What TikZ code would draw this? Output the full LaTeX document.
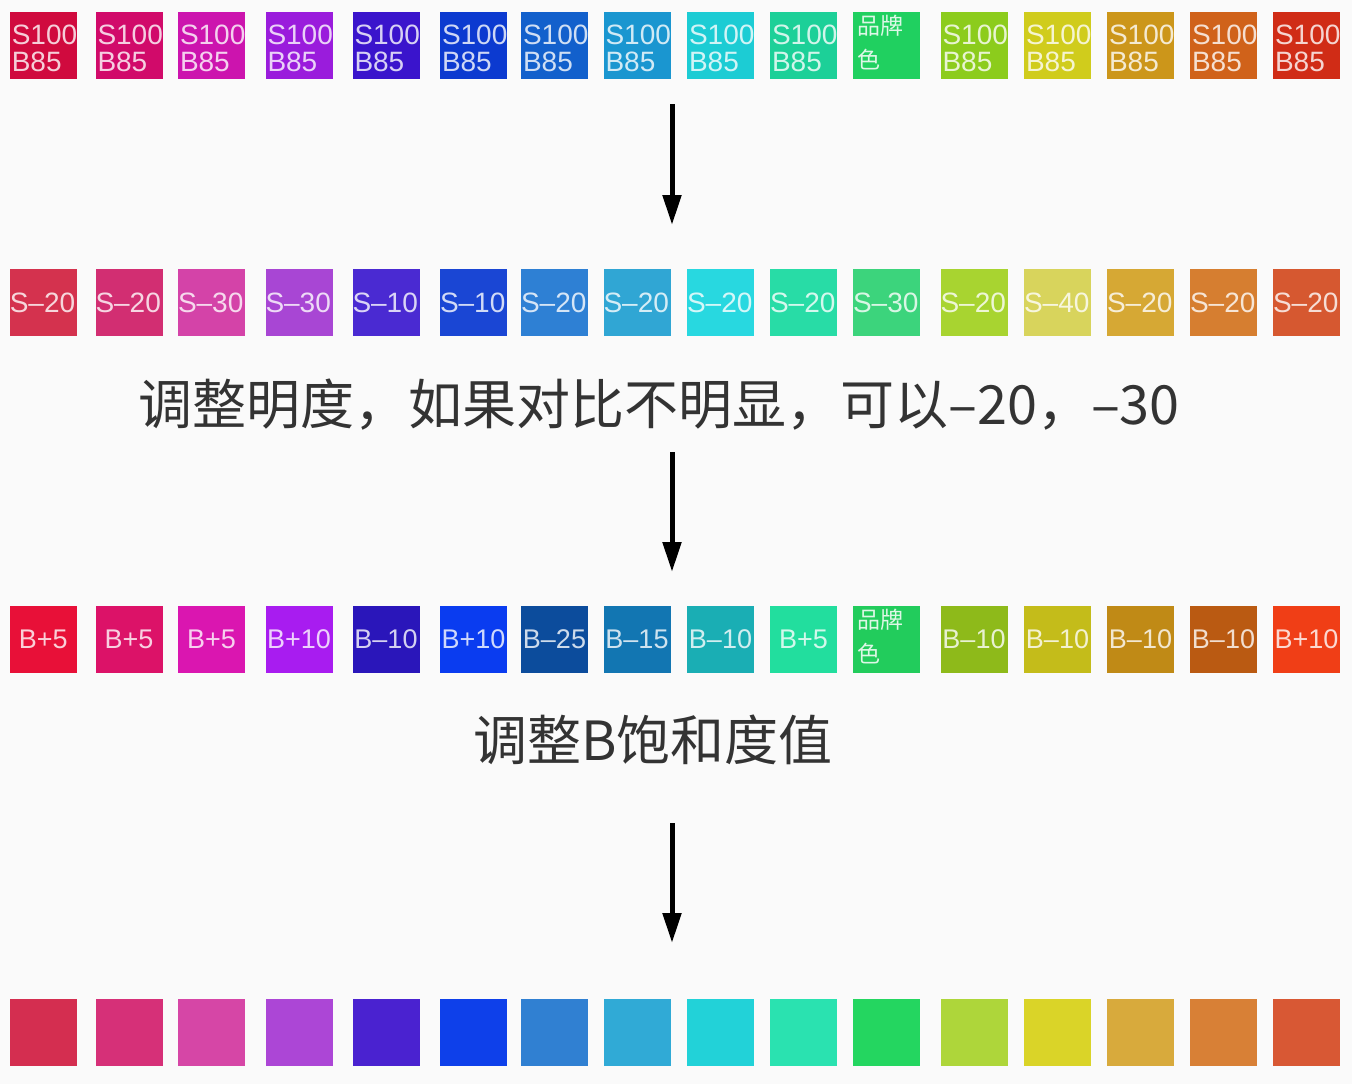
\documentclass[tikz,border=0pt]{standalone}
\usepackage{fontspec}
\setmainfont{Liberation Sans}
\newfontfamily\cjk{Noto Sans CJK SC}
\usetikzlibrary{arrows.meta}

\tikzset{
  swatch/.style={minimum size=67pt,inner sep=0pt,text=white,text opacity=.8,
    font=\fontsize{27}{27}\selectfont},
  etiq/.style={inner sep=2pt,align=left,text=white,text opacity=.8,
    font=\fontsize{28}{27}\selectfont},
  marca/.style={inner sep=2pt,align=left,text=white,text opacity=.85,
    font=\cjk\fontsize{23}{34}\selectfont},
  leyenda/.style={text=black!80,font=\cjk\fontsize{54}{54}\selectfont},
  flecha/.style={line width=5pt,-{Triangle[length=30pt,width=18pt]}}
}

\begin{document}
\begin{tikzpicture}[x=1pt,y=-1pt]
    \fill[black!2] (0,0) rectangle (1352,1084);
    \useasboundingbox (0,0) rectangle (1352,1084);

    % Columnas y filas.
    \foreach \x [count=\i] in {43.3,129,211.5,299,386,473.5,554.5,637,
        720.5,803.5,886.5,974,1057.5,1140.5,1223.5,1306.5}
        \coordinate (k\i) at (\x,0);
    \coordinate (f1) at (0,45.3);
    \coordinate (f2) at (0,302.5);
    \coordinate (f3) at (0,639.5);
    \coordinate (f4) at (0,1032.5);

    % Fila 1: tonos puros S100 B85.
    \foreach \c [count=\i] in {D00A3E,D10A6A,CC14AE,9A1CDC,3A14CC,0C3AD0,
        1260CC,1A96D0,1CCCD4,1CD098,20D060,8CCC1C,D0CC1C,CC961A,D0621A,D02C16} {
        \definecolor{tmp}{HTML}{\c}
        \node[swatch,fill=tmp] (a\i) at (k\i |- f1) {};
        \ifnum\i=11 \else
            \node[etiq,anchor=west] (ta\i) at ([yshift=-3pt]a\i.west) {S100\\B85};
        \fi
    }
    \node[marca,anchor=north west] (ma) at ([xshift=2pt,yshift=-1pt]a11.north west) {品牌\\色};

    % Fila 2: ajuste de saturación.
    \foreach \c/\t [count=\i] in {D4324E/S–20,D22E72/S–20,D443A8/S–30,A846D4/S–30,
        4A2AD2/S–10,1A46D4/S–10,2E80D4/S–20,30A6D4/S–20,28D8E0/S–20,28DCA6/S–20,
        3CD47C/S–30,A8D430/S–20,D8D45C/S–40,D6A834/S–20,D67E30/S–20,D65830/S–20} {
        \definecolor{tmp}{HTML}{\c}
        \node[swatch,fill=tmp] (b\i) at (k\i |- f2) {};
        \node[etiq,anchor=west,inner sep=0pt] (tb\i) at (b\i.west) {\t};
    }
    \node[leyenda] (l1) at (659,405) {调整明度，如果对比不明显，可以–20，–30};

    % Fila 3: ajuste de brillo.
    \foreach \c/\t [count=\i] in {E81038/B+5,DC1268/B+5,DA16B0/B+5,A81CF0/B+10,
        2A16BA/B–10,0A3CF0/B+10,0C4C9C/B–25,1276B2/B–15,1AAEB4/B–10,22DE9E/B+5,
        22CC5C/{},8EBA1A/B–10,C4BC1A/B–10,C08A16/B–10,BA5A12/B–10,F03E16/B+10} {
        \definecolor{tmp}{HTML}{\c}
        \node[swatch,fill=tmp] (c\i) at (k\i |- f3) {\t};
    }
    \node[marca,anchor=north west] (mc) at ([xshift=2pt,yshift=-1pt]c11.north west) {品牌\\色};
    \node[leyenda] (l2) at (653,740) {调整B饱和度值};

    % Fila 4: resultado.
    \foreach \c [count=\i] in {D42E50,D63078,D646A6,AC46D6,4A22D0,0E40EA,
        3080D2,30AAD6,22D2D8,2AE2B0,24D660,AED63A,DAD428,D8AA3C,D88036,D85834} {
        \definecolor{tmp}{HTML}{\c}
        \node[swatch,fill=tmp] (d\i) at (k\i |- f4) {};
    }

    % Flechas entre filas.
    \coordinate (p1) at (672,104);  \coordinate (q1) at (672,225);
    \coordinate (p2) at (672,452);  \coordinate (q2) at (672,572);
    \coordinate (p3) at (672,823);  \coordinate (q3) at (672,943);
    \draw[flecha] (p1) -- (q1);
    \draw[flecha] (p2) -- (q2);
    \draw[flecha] (p3) -- (q3);
\end{tikzpicture}
\end{document}
